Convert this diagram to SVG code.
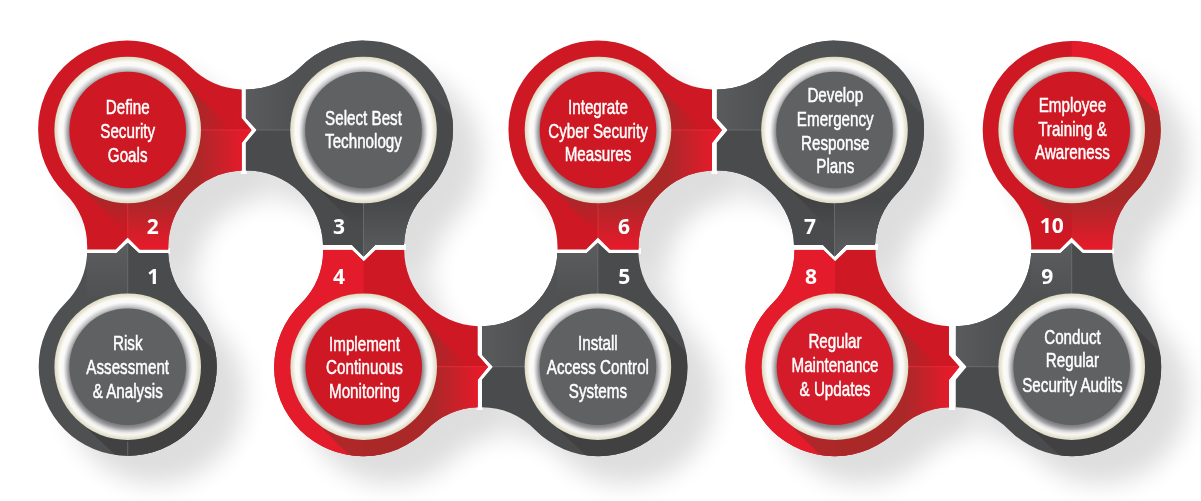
<svg xmlns="http://www.w3.org/2000/svg" width="1201" height="501" viewBox="0 0 1201 501">
<style>
.lbl{font-family:"Liberation Sans",Arial,sans-serif;font-size:20px;fill:#fff;stroke:#fff;stroke-width:.5;text-anchor:middle}
.num{font-family:"Open Sans","DejaVu Sans",sans-serif;font-size:21px;font-weight:700;fill:#fff;text-anchor:middle}
.sepl{fill:none;stroke:#fff;stroke-width:6}
.sr{stroke:#e7303c;stroke-width:.8}
.sd{stroke:#6f7072;stroke-width:.8}
.dr{fill:#ce1823}
.dg{fill:#606163}
</style>
<defs>
<path id="p-dr" d="M62.93-62.93A76.5 76.5 0 0 0 114-40.5V-12L124 0 114 13V40.5A76.5 76.5 0 0 0 40.5 117V119.5H12L0 107.5-12 119.5H-40.5V117A76.5 76.5 0 0 0-62.93 62.93A89 89 0 1 1 62.93-62.93Z"/>
<path id="p-ld" d="M-117.7-40.5A76.5 76.5 0 0 0-62.93-62.93A89 89 0 1 1 62.93 62.93A76.5 76.5 0 0 0 40.5 115H11.5L0 126.5-11.5 115H-40.5A76.5 76.5 0 0 0-117.7 40.5V13L-106.7 0-117.7-12Z"/>
<path id="p-ur" d="M-40.5-117H-12L0-105.5 12-117H40.5A76.5 76.5 0 0 0 114-40.5V-12L124.5 0 114 13V40.5A76.5 76.5 0 0 0 62.93 62.93A89 89 0 1 1-62.93-62.93A76.5 76.5 0 0 0-40.5-117Z"/>
<path id="p-lu" d="M-40.5-113.7H-11L0-124 11-113.7H40.5A76.5 76.5 0 0 0 62.93-62.93A89 89 0 1 1-62.93 62.93A76.5 76.5 0 0 0-116 40.5V13L-105 0-116-12V-40.5A76.5 76.5 0 0 0-40.5-113.7Z"/>
<path id="p-u" d="M-40.5-113.7H-11L0-124 11-113.7H40.5A76.5 76.5 0 0 0 62.93-62.93A89 89 0 1 1-62.93-62.93A76.5 76.5 0 0 0-40.5-113.7Z"/>
<path id="p-d" d="M62.93 62.93A76.5 76.5 0 0 0 40.5 119.5H12L0 107.5-12 119.5H-40.5A76.5 76.5 0 0 0-62.93 62.93A89 89 0 1 1 62.93 62.93Z"/>
<clipPath id="c-dr"><use href="#p-dr"/></clipPath>
<clipPath id="c-ld"><use href="#p-ld"/></clipPath>
<clipPath id="c-ur"><use href="#p-ur"/></clipPath>
<clipPath id="c-lu"><use href="#p-lu"/></clipPath>
<clipPath id="c-u"><use href="#p-u"/></clipPath>
<clipPath id="c-d"><use href="#p-d"/></clipPath>
<linearGradient id="rRampH" gradientUnits="userSpaceOnUse" x1="70" y1="0" x2="114" y2="0"><stop offset="0" stop-color="#ab2829"/><stop offset="1" stop-color="#e31b2a"/></linearGradient>
<linearGradient id="rRampV" gradientUnits="userSpaceOnUse" x1="0" y1="72" x2="0" y2="116"><stop offset="0" stop-color="#ab2829"/><stop offset="1" stop-color="#e31b2a"/></linearGradient>
<linearGradient id="rFadeH" gradientUnits="userSpaceOnUse" x1="62" y1="0" x2="104" y2="0"><stop offset="0" stop-color="#a32a2b"/><stop offset="1" stop-color="#ce1823"/></linearGradient>
<linearGradient id="rFadeV" gradientUnits="userSpaceOnUse" x1="0" y1="62" x2="0" y2="104"><stop offset="0" stop-color="#a32a2b"/><stop offset="1" stop-color="#ce1823"/></linearGradient>
<linearGradient id="gArmL" gradientUnits="userSpaceOnUse" x1="-117" y1="0" x2="-70" y2="0"><stop offset="0" stop-color="#5a5b5d"/><stop offset="1" stop-color="#505153"/></linearGradient>
<linearGradient id="gStemU" gradientUnits="userSpaceOnUse" x1="0" y1="-116" x2="0" y2="-66"><stop offset="0" stop-color="#5a5b5d"/><stop offset="1" stop-color="#4f5052"/></linearGradient>
<linearGradient id="gStemD" gradientUnits="userSpaceOnUse" x1="0" y1="70" x2="0" y2="116"><stop offset="0" stop-color="#47484a"/><stop offset="1" stop-color="#58595b"/></linearGradient>
<linearGradient id="gFadeV" gradientUnits="userSpaceOnUse" x1="0" y1="62" x2="0" y2="104"><stop offset="0" stop-color="#3f3f40"/><stop offset="1" stop-color="#4c4d4f"/></linearGradient>
<radialGradient id="ringG" gradientUnits="userSpaceOnUse" cx="0" cy="0" r="73.3">
<stop offset=".78" stop-color="#a5a6a8"/><stop offset=".83" stop-color="#d2d2d4"/><stop offset=".88" stop-color="#fafafa"/><stop offset=".93" stop-color="#fbfaf5"/><stop offset=".975" stop-color="#e6e3d2"/><stop offset="1" stop-color="#dcd9c2"/>
</radialGradient>
<filter id="soft" filterUnits="userSpaceOnUse" x="0" y="0" width="1201" height="501"><feGaussianBlur stdDeviation="12"/></filter>
<filter id="ringBlur" x="-20%" y="-20%" width="140%" height="140%"><feGaussianBlur stdDeviation="2.5"/></filter>
<g id="ring"><circle r="73.3" fill="url(#ringG)"/><circle cy="4" r="60" fill="#4f5052" opacity=".55" filter="url(#ringBlur)"/></g>
<g id="b-dr"><g clip-path="url(#c-dr)">
<rect x="-100" y="-100" width="240" height="240" class="dr"/>
<polygon points="51,-52 105,0 40,0" fill="url(#rFadeH)"/>
<polygon points="-52,51 0,105 0,40" fill="url(#rFadeV)"/>
<polygon points="0,0 160,0 160,160" fill="url(#rRampH)"/>
<polygon points="0,0 0,160 160,160" fill="url(#rRampV)"/>
<path class="sr" d="M70 0H124M0 70V108"/>
</g></g>
<g id="b-ur"><g clip-path="url(#c-ur)">
<rect x="-100" y="-120" width="240" height="240" class="dr"/>
<rect x="-100" y="-120" width="100" height="240" fill="#e31b2a"/>
<polygon points="51,-52 105,0 40,0" fill="url(#rFadeH)"/>
<polygon points="-52,51 12,115 12,40" fill="#ae2829"/>
<rect x="0" y="0" width="130" height="100" fill="url(#rRampH)"/>
<path class="sr" d="M70 0H124"/>
</g></g>
<g id="b-d"><g clip-path="url(#c-d)">
<rect x="-100" y="-100" width="200" height="230" class="dr"/>
<polygon points="0,-100 100,-100 100,-3 51,-52 0,0" fill="#e31b2a"/>
<polygon points="51,-52 100,-3 100,130 0,130 0,0" fill="url(#rRampV)"/>
<polygon points="-52,51 0,105 0,40" fill="url(#rFadeV)"/>
</g></g>
<g id="b-ld"><g clip-path="url(#c-ld)">
<rect x="-120" y="-100" width="240" height="240" fill="#4f5052"/>
<rect x="-120" y="-100" width="120" height="100" fill="url(#gArmL)"/>
<rect x="-120" y="0" width="120" height="130" fill="#4a4b4d"/>
<polygon points="51,-52 100,-3 100,130 0,130 0,0" fill="#48494b"/>
<rect x="0" y="62" width="60" height="70" fill="url(#gStemD)"/>
<polygon points="-52,51 0,105 0,40" fill="url(#gFadeV)"/>
<path class="sd" d="M-118 0H-70M0 70V126"/>
</g></g>
<g id="b-lu"><g clip-path="url(#c-lu)">
<rect x="-120" y="-125" width="240" height="240" fill="#4a4b4d"/>
<rect x="-120" y="-125" width="120" height="125" fill="url(#gArmL)"/>
<rect x="-41" y="-125" width="41" height="80" fill="url(#gStemU)"/>
<polygon points="51,-52 100,-3 100,100 0,100 -52,51 0,0" fill="#414142"/>
<path class="sd" d="M-118 0H-70M0-124V-70"/>
</g></g>
<g id="b-u"><g clip-path="url(#c-u)">
<rect x="-100" y="-125" width="200" height="225" fill="#4f5052"/>
<rect x="-41" y="-125" width="41" height="80" fill="url(#gStemU)"/>
<rect x="0" y="-125" width="100" height="225" fill="#4a4b4d"/>
<polygon points="51,-52 100,-3 100,100 0,100 -52,51 0,0" fill="#414142"/>
<path class="sd" d="M0-124V-70M0 75V90"/>
</g></g>
</defs>
<rect width="1201" height="501" fill="#fff"/>
<g id="shadows" filter="url(#soft)" fill="#000" opacity=".13">
<use href="#p-u" x="155.7" y="394.7"/>
<use href="#p-dr" x="155.7" y="158"/>
<use href="#p-ld" x="391.5" y="158"/>
<use href="#p-ur" x="391.7" y="394.7"/>
<use href="#p-lu" x="625.9" y="394.7"/>
<use href="#p-dr" x="626" y="158"/>
<use href="#p-ld" x="862.5" y="158"/>
<use href="#p-ur" x="863" y="394.7"/>
<use href="#p-lu" x="1099.7" y="394.7"/>
<use href="#p-d" x="1099.7" y="158"/>
</g>
<g id="connectors">
<path class="sepl" d="M85 251H116.7L127.7 240 138.7 251H170"/>
<path class="sepl" d="M243.7 88V118L254 130 243.7 143V174"/>
<path class="sepl" d="M321 247H352.7L363.7 258.5 375 247H406"/>
<path class="sepl" d="M479.5 324V354.7L490.5 366.7 479.5 379.7V410"/>
<path class="sepl" d="M555 251H587L598 240 609 251H641"/>
<path class="sepl" d="M714.4 88V118L725 130 714.4 143V174"/>
<path class="sepl" d="M792 247H823.5L835 258.5 846.5 247H878"/>
<path class="sepl" d="M952 324V354.7L963 366.7 952 379.7V410"/>
<path class="sepl" d="M1029 251H1060.7L1071.7 240 1082.7 251H1114"/>
</g>
<g id="node-1" transform="translate(127.7,366.7)"><use href="#b-u"/><use href="#ring"/><circle r="58.3" class="dg"/>
<g transform="scale(.76,1)"><text class="lbl" y="-16.7">Risk</text><text class="lbl" y="7.3">Assessment</text><text class="lbl" y="31">&amp; Analysis</text></g>
<text class="num" x="25.6" y="-82.7">1</text></g>
<g id="node-2" transform="translate(127.7,130)"><use href="#b-dr"/><use href="#ring"/><circle r="58.3" class="dr"/>
<g transform="scale(.76,1)"><text class="lbl" y="-16">Define</text><text class="lbl" y="8.3">Security</text><text class="lbl" y="32.3">Goals</text></g>
<text class="num" x="25" y="104">2</text></g>
<g id="node-3" transform="translate(363.5,130)"><use href="#b-ld"/><use href="#ring"/><circle r="58.3" class="dg"/>
<g transform="scale(.76,1)"><text class="lbl" y="-5">Select Best</text><text class="lbl" y="18.3">Technology</text></g>
<text class="num" x="-24.5" y="104">3</text></g>
<g id="node-4" transform="translate(363.7,366.7)"><use href="#b-ur"/><use href="#ring"/><circle r="58.3" class="dr"/>
<g transform="scale(.76,1)"><text class="lbl" x="1" y="-16">Implement</text><text class="lbl" x="1" y="7.6">Continuous</text><text class="lbl" x="1" y="31.3">Monitoring</text></g>
<text class="num" x="-24.7" y="-82.7">4</text></g>
<g id="node-5" transform="translate(597.9,366.7)"><use href="#b-lu"/><use href="#ring"/><circle r="58.3" class="dg"/>
<g transform="scale(.76,1)"><text class="lbl" y="-16.7">Install</text><text class="lbl" y="7.3">Access Control</text><text class="lbl" y="31">Systems</text></g>
<text class="num" x="26.4" y="-82.7">5</text></g>
<g id="node-6" transform="translate(598,130)"><use href="#b-dr"/><use href="#ring"/><circle r="58.3" class="dr"/>
<g transform="scale(.76,1)"><text class="lbl" y="-16.5">Integrate</text><text class="lbl" y="7.5">Cyber Security</text><text class="lbl" y="31.5">Measures</text></g>
<text class="num" x="26" y="104">6</text></g>
<g id="node-7" transform="translate(834.5,130)"><use href="#b-ld"/><use href="#ring"/><circle r="58.3" class="dg"/>
<g transform="scale(.76,1)"><text class="lbl" x="1" y="-28.3">Develop</text><text class="lbl" x="1" y="-4.3">Emergency</text><text class="lbl" x="1" y="20">Response</text><text class="lbl" x="1" y="43.3">Plans</text></g>
<text class="num" x="-24.5" y="104">7</text></g>
<g id="node-8" transform="translate(835,366.7)"><use href="#b-ur"/><use href="#ring"/><circle r="58.3" fill="#d41b29"/>
<g transform="scale(.76,1)"><text class="lbl" y="-19">Regular</text><text class="lbl" y="5">Maintenance</text><text class="lbl" y="29">&amp; Updates</text></g>
<text class="num" x="-24" y="-82.7">8</text></g>
<g id="node-9" transform="translate(1071.7,366.7)"><use href="#b-lu"/><use href="#ring"/><circle r="58.3" class="dg"/>
<g transform="scale(.76,1)"><text class="lbl" x="1" y="-22.7">Conduct</text><text class="lbl" x="1" y=".6">Regular</text><text class="lbl" x="1" y="25">Security Audits</text></g>
<text class="num" x="-24.4" y="-82.7">9</text></g>
<g id="node-10" transform="translate(1071.7,130)"><use href="#b-d"/><use href="#ring"/><circle r="58.3" class="dr"/>
<g transform="scale(.76,1)"><text class="lbl" x="1" y="-18.3">Employee</text><text class="lbl" x="1" y="5.7">Training &amp;</text><text class="lbl" x="1" y="29.3">Awareness</text></g>
<text class="num" x="-20" y="103.3">10</text></g>
</svg>
